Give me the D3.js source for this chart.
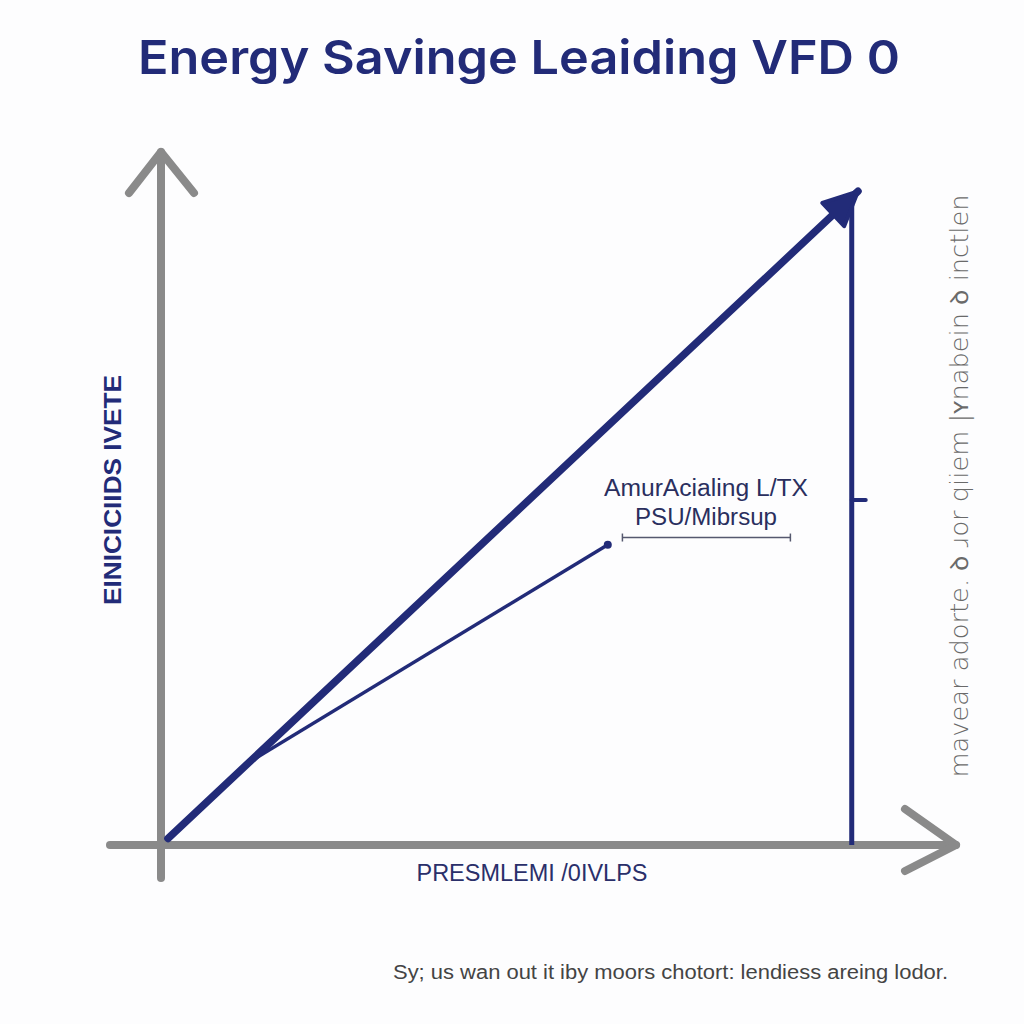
<!DOCTYPE html>
<html><head><meta charset="utf-8">
<script src="https://cdn.jsdelivr.net/npm/d3@7"></script>
<style>html,body{margin:0;padding:0;background:#fdfdfe;}svg{display:block;}</style>
</head><body>
<svg id="c" width="1024" height="1024"></svg>
<script>
const titleText = "Energy Savinge Leaiding VFD 0";
const yLabel = "EINICICIIDS IVETE";
const xLabel = "PRESMLEMI /0IVLPS";
const rightLabel = "mavear  adorte. ꝺ ɹor qiiem |ʏnabein ꝺ inctlen";
const caption = "Sy; us wan out it iby moors chotort: lendiess areing lodor.";
const annotationLines = ["AmurAcialing L/TX", "PSU/Mibrsup"];
const mainSeries = [{x:1, y:1}, {x:100, y:99.5}];
const secondSeries = [{x:12, y:12.2}, {x:64.1, y:45.7}];
const verticalSeries = [{x:99.1, y:0}, {x:99.1, y:97.5}];
const bracketRange = [66.2, 90.3];
const bracketY = 46.8;
const tickY = 52.5;

const svg = d3.select("#c");
const navy = "#222b78", gray = "#8a8a8a";
const x = d3.scaleLinear().domain([0,100]).range([161, 858]);
const y = d3.scaleLinear().domain([0,100]).range([845, 188]);
const line = d3.line().x(d=>x(d.x)).y(d=>y(d.y));

svg.append("text").attr("x", 138).attr("y", 74)
  .attr("font-family","Inter, 'Open Sans', sans-serif").attr("font-weight",600)
  .attr("font-size",47).attr("fill",navy).attr("textLength",762).attr("lengthAdjust","spacingAndGlyphs").text(titleText);

// axes
svg.append("line").attr("x1",161).attr("x2",161).attr("y1",878).attr("y2",152)
  .attr("stroke",gray).attr("stroke-width",8).attr("stroke-linecap","round");
svg.append("path").attr("d","M129,193 L161,152 L194,193").attr("fill","none")
  .attr("stroke",gray).attr("stroke-width",8).attr("stroke-linecap","round").attr("stroke-linejoin","round");
svg.append("line").attr("x1",110).attr("x2",956).attr("y1",845).attr("y2",845)
  .attr("stroke",gray).attr("stroke-width",8).attr("stroke-linecap","round");
svg.append("path").attr("d","M905,809 L956,845 L905,871").attr("fill","none")
  .attr("stroke",gray).attr("stroke-width",8).attr("stroke-linecap","round").attr("stroke-linejoin","round");

// vertical navy line
svg.append("path").attr("d", line(verticalSeries)).attr("stroke",navy).attr("stroke-width",5).attr("fill","none");
svg.append("line").attr("x1",x(99.1)).attr("x2",x(99.1)+14).attr("y1",y(tickY)).attr("y2",y(tickY))
  .attr("stroke",navy).attr("stroke-width",4).attr("stroke-linecap","round");

// second line
svg.append("path").attr("d", line(secondSeries)).attr("stroke",navy).attr("stroke-width",3.5).attr("fill","none");
svg.append("circle").attr("cx",x(secondSeries[1].x)).attr("cy",y(secondSeries[1].y)).attr("r",4).attr("fill",navy);

// main line
const p0 = mainSeries[0], p1 = mainSeries[1];
svg.append("path").attr("d", line(mainSeries)).attr("stroke",navy).attr("stroke-width",7.5).attr("fill","none").attr("stroke-linecap","round");
const ex = x(p1.x), ey = y(p1.y);
const ang = Math.atan2(ey - y(p0.y), ex - x(p0.x));
const L = 34, W = 16;
const bx = ex - L*Math.cos(ang), by = ey - L*Math.sin(ang);
const nx = -Math.sin(ang), ny = Math.cos(ang);
svg.append("path").attr("d",`M${ex},${ey} L${bx+nx*W},${by+ny*W} L${bx-nx*W},${by-ny*W} Z`)
  .attr("fill",navy).attr("stroke",navy).attr("stroke-width",4).attr("stroke-linejoin","round");

// annotation
const annLens = [204, 142];
annotationLines.forEach((t,i)=>{
  svg.append("text").attr("x",706).attr("y",496+i*29).attr("text-anchor","middle")
    .attr("font-family","'Liberation Sans', Arial, sans-serif").attr("font-size",23).attr("fill","#2a2f5e")
    .attr("textLength",annLens[i]).attr("lengthAdjust","spacingAndGlyphs").text(t);
});
svg.append("line").attr("x1",x(bracketRange[0])).attr("x2",x(bracketRange[1])).attr("y1",y(bracketY)).attr("y2",y(bracketY))
  .attr("stroke","#55586e").attr("stroke-width",1.5);
bracketRange.forEach(v=>svg.append("line").attr("x1",x(v)).attr("x2",x(v)).attr("y1",y(bracketY)-4).attr("y2",y(bracketY)+4)
  .attr("stroke","#55586e").attr("stroke-width",1.5));

// axis labels
svg.append("text").attr("transform","translate(121,490) rotate(-90)").attr("text-anchor","middle")
  .attr("font-family","'Liberation Sans', Arial, sans-serif").attr("font-weight",700).attr("font-size",24)
  .attr("fill",navy).attr("textLength",230).attr("lengthAdjust","spacingAndGlyphs").text(yLabel);
svg.append("text").attr("x",532).attr("y",881).attr("text-anchor","middle")
  .attr("font-family","'Liberation Sans', Arial, sans-serif").attr("font-size",23)
  .attr("fill","#2a2f6a").attr("textLength",231).attr("lengthAdjust","spacingAndGlyphs").text(xLabel);
svg.append("text").attr("transform","translate(968,486) rotate(-90)").attr("text-anchor","middle")
  .attr("font-family","'DejaVu Sans', sans-serif").attr("font-weight",300).attr("font-size",25)
  .attr("fill","#6a6a6a").attr("textLength",583).attr("lengthAdjust","spacingAndGlyphs").text(rightLabel);
svg.append("text").attr("x",393).attr("y",979)
  .attr("font-family","'Liberation Sans', Arial, sans-serif").attr("font-size",20)
  .attr("fill","#444").attr("textLength",555).attr("lengthAdjust","spacingAndGlyphs").text(caption);
</script>
</body></html>
